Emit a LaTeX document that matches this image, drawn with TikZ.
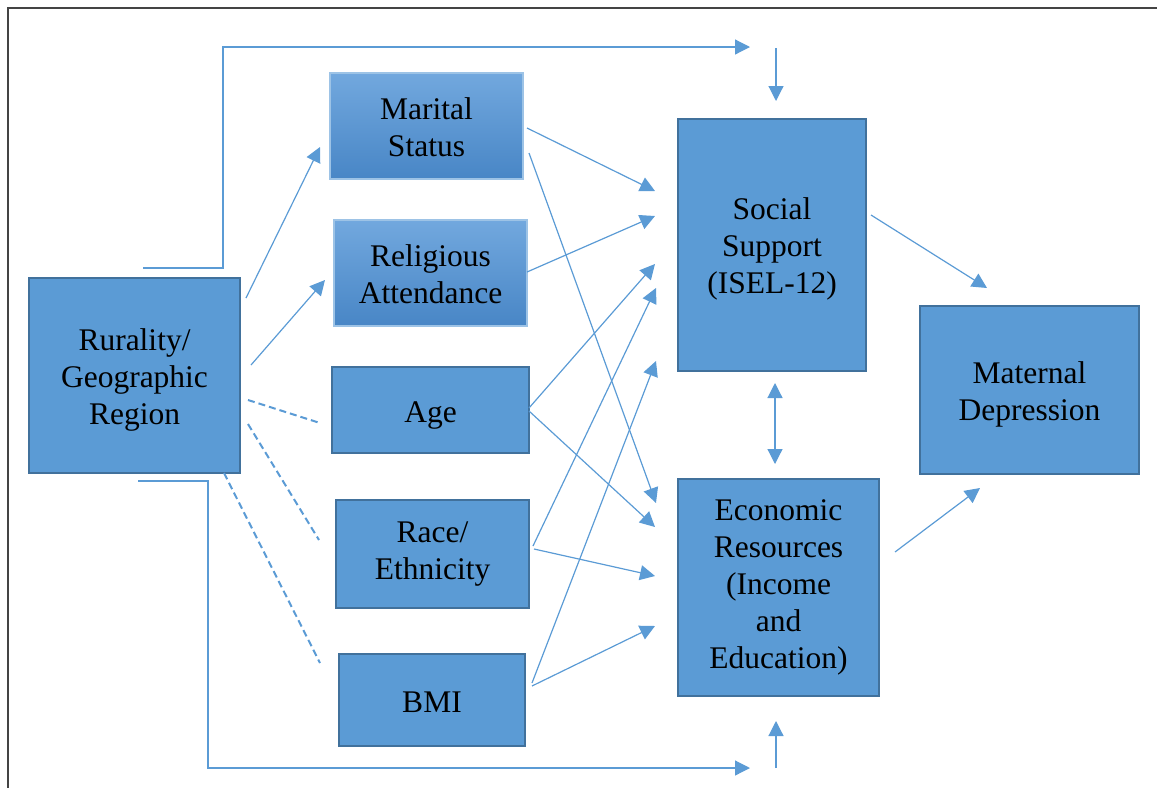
\documentclass[tikz,border=0pt]{standalone}
\usepackage{fontspec}
\setmainfont{Liberation Serif}
\usetikzlibrary{arrows.meta}
\definecolor{boxfill}{HTML}{5B9BD5}
\definecolor{boxdraw}{HTML}{41719C}
\definecolor{arrc}{HTML}{5B9BD5}
\definecolor{framec}{HTML}{444444}
\definecolor{gradtop}{HTML}{72A8DE}
\definecolor{gradbot}{HTML}{4886C6}
\definecolor{gradline}{HTML}{9DC3E6}
\tikzset{
  boxbase/.style={rectangle, inner sep=0pt},
  solidbox/.style={boxbase, draw=boxdraw, fill=boxfill, line width=2pt},
  gradbox/.style={boxbase, draw=gradline, line width=1.2pt, top color=gradtop, bottom color=gradbot},
  lbl/.style={align=center, text=black, inner sep=0pt, font=\fontsize{31.5}{37}\selectfont},
  arr/.style={draw=arrc, line width=1.2pt, -{Triangle[length=15pt,width=15pt]}},
  darr/.style={draw=arrc, line width=1.2pt, {Triangle[length=15pt,width=15pt]}-{Triangle[length=15pt,width=15pt]}},
  dline/.style={draw=arrc, line width=2pt, dash pattern=on 7pt off 4pt},
}
\begin{document}
\begin{tikzpicture}[x=1pt,y=-1pt]
\useasboundingbox (0,0) rectangle (1157,788);
\draw[framec, line width=2pt] (1157,8) -- (8,8) -- (8,788);

% boxes (text as centred labels, shifted to match the reference)
\node[solidbox, minimum width=211pt, minimum height=195pt,
  label={[lbl, yshift=-4pt]center:{Rurality/\\Geographic\\Region}}] (rur) at (134.5,375.5) {};
\node[gradbox, minimum width=193pt, minimum height=106pt,
  label={[lbl, yshift=-1.5pt]center:{Marital\\Status}}] (mar) at (426.5,126) {};
\node[gradbox, minimum width=193pt, minimum height=106pt,
  label={[lbl, yshift=-1pt]center:{Religious\\Attendance}}] (rel) at (430.5,273) {};
\node[solidbox, minimum width=197pt, minimum height=86pt,
  label={[lbl, yshift=-5pt]center:{Age}}] (age) at (430.5,410) {};
\node[solidbox, minimum width=193pt, minimum height=108pt,
  label={[lbl]center:{Race/\\Ethnicity}}] (race) at (432.5,554) {};
\node[solidbox, minimum width=186pt, minimum height=92pt,
  label={[lbl, yshift=-2pt]center:{BMI}}] (bmi) at (432,700) {};
\node[solidbox, minimum width=188pt, minimum height=252pt,
  label={[lbl, yshift=-4pt]center:{Social\\Support\\(ISEL-12)}}] (ss) at (772,245) {};
\node[solidbox, minimum width=201pt, minimum height=217pt,
  label={[lbl]center:{Economic\\Resources\\(Income\\and\\Education)}}] (er) at (778.5,587.5) {};
\node[solidbox, minimum width=219pt, minimum height=168pt,
  label={[lbl, yshift=-4pt]center:{Maternal\\Depression}}] (md) at (1029.5,390) {};

% connector end points
\coordinate (topS) at (143,268);
\coordinate (topC1) at (223,268);
\coordinate (topC2) at (223,47);
\coordinate (topE) at (750,47);
\coordinate (downS) at (776,48);
\coordinate (downE) at (776,101);
\coordinate (botS) at (138,481);
\coordinate (botC1) at (208,481);
\coordinate (botC2) at (208,768);
\coordinate (botE) at (750,768);
\coordinate (upS) at (776,768);
\coordinate (upE) at (776,721);

\coordinate (rurA) at (246,298);  \coordinate (marIn) at (320,147);
\coordinate (rurB) at (251,365);  \coordinate (relIn) at (325,280);
\coordinate (rurC) at (248,400);  \coordinate (ageIn) at (320,423);
\coordinate (rurD) at (248,424);  \coordinate (raceIn) at (319,540);
\coordinate (rurE) at (224,473);  \coordinate (bmiIn) at (320,663);

\coordinate (marA) at (527,128);  \coordinate (ssA) at (655,191);
\coordinate (marB) at (529,153);  \coordinate (erA) at (656,503);
\coordinate (relA) at (527,272);  \coordinate (ssB) at (655,216);
\coordinate (ageA) at (529,408);  \coordinate (ssC) at (655,264);
\coordinate (ageB) at (529,411);  \coordinate (erB) at (655,527);
\coordinate (raceA) at (533,546); \coordinate (ssD) at (656,288);
\coordinate (raceB) at (534,549); \coordinate (erC) at (655,576);
\coordinate (bmiA) at (532,683);  \coordinate (ssE) at (656,361);
\coordinate (bmiB) at (532,686);  \coordinate (erD) at (655,626);

\coordinate (ssOut) at (871,215); \coordinate (mdA) at (987,288);
\coordinate (erOut) at (895,552); \coordinate (mdB) at (980,488);
\coordinate (ssBot) at (775,383); \coordinate (erTop) at (775,464);

% connectors
\draw[arr] (topS) -- (topC1) -- (topC2) -- (topE);
\draw[arr] (downS) -- (downE);
\draw[arr] (botS) -- (botC1) -- (botC2) -- (botE);
\draw[arr] (upS) -- (upE);

\draw[arr] (rurA) -- (marIn);
\draw[arr] (rurB) -- (relIn);
\draw[dline] (rurC) -- (ageIn);
\draw[dline] (rurD) -- (raceIn);
\draw[dline] (rurE) -- (bmiIn);

\draw[arr] (marA) -- (ssA);
\draw[arr] (marB) -- (erA);
\draw[arr] (relA) -- (ssB);
\draw[arr] (ageA) -- (ssC);
\draw[arr] (ageB) -- (erB);
\draw[arr] (raceA) -- (ssD);
\draw[arr] (raceB) -- (erC);
\draw[arr] (bmiA) -- (ssE);
\draw[arr] (bmiB) -- (erD);

\draw[darr] (ssBot) -- (erTop);
\draw[arr] (ssOut) -- (mdA);
\draw[arr] (erOut) -- (mdB);
\end{tikzpicture}
\end{document}
